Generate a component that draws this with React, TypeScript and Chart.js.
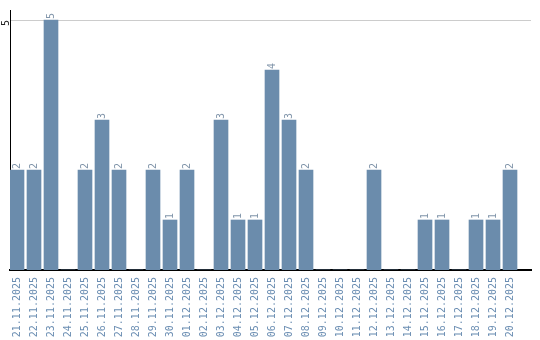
import React, { useEffect, useRef } from "react";
import { Chart, registerables } from "chart.js";

Chart.register(...registerables);

const dates = [
  "21.11.2025", "22.11.2025", "23.11.2025", "24.11.2025", "25.11.2025",
  "26.11.2025", "27.11.2025", "28.11.2025", "29.11.2025", "30.11.2025",
  "01.12.2025", "02.12.2025", "03.12.2025", "04.12.2025", "05.12.2025",
  "06.12.2025", "07.12.2025", "08.12.2025", "09.12.2025", "10.12.2025",
  "11.12.2025", "12.12.2025", "13.12.2025", "14.12.2025", "15.12.2025",
  "16.12.2025", "17.12.2025", "18.12.2025", "19.12.2025", "20.12.2025",
];

const counts = [
  2, 2, 5, 0, 2, 3, 2, 0, 2, 1,
  2, 0, 3, 1, 1, 4, 3, 2, 0, 0,
  0, 2, 0, 0, 1, 1, 0, 1, 1, 2,
];

const yTickValues = [5];

const FONT = "'DejaVu Sans Mono', monospace";

const barLabelPlugin = {
  id: "barLabels",
  afterDatasetsDraw(chart: any) {
    const ctx = chart.ctx;
    const meta = chart.getDatasetMeta(0);
    ctx.save();
    ctx.font = `10px ${FONT}`;
    ctx.fillStyle = "#8195aa";
    ctx.textAlign = "left";
    ctx.textBaseline = "middle";
    meta.data.forEach((bar: any, i: number) => {
      const v = counts[i];
      if (!v) return;
      ctx.save();
      ctx.translate(bar.x + 0.5, bar.y - 1);
      ctx.rotate(-Math.PI / 2);
      ctx.fillText(String(v), 0, 0);
      ctx.restore();
    });
    ctx.restore();
  },
};

export default function App() {
  const ref = useRef<HTMLCanvasElement | null>(null);

  useEffect(() => {
    if (!ref.current) return;
    const chart = new Chart(ref.current, {
      type: "bar",
      data: {
        datasets: [
          {
            data: counts.map((c, i) => ({ x: i, y: c })),
            backgroundColor: "#6b8cac",
            borderWidth: 0,
            barThickness: 14,
          },
        ],
      },
      options: {
        animation: false,
        responsive: false,
        layout: { padding: { top: 10, right: 9, bottom: 0, left: 0 } },
        plugins: {
          legend: { display: false },
          tooltip: { enabled: false },
        },
        scales: {
          x: {
            type: "linear",
            offset: false,
            min: -0.4118,
            max: 30.235,
            grid: { display: false, drawTicks: false, offset: false },
            border: { display: true, color: "#000", width: 2 },
            afterBuildTicks: (scale: any) => {
              scale.ticks = dates.map((_, i) => ({ value: i }));
            },
            afterFit: (scale: any) => {
              scale.height = 70;
            },
            ticks: {
              autoSkip: false,
              minRotation: 90,
              maxRotation: 90,
              padding: 7,
              color: "#6a8db2",
              font: { family: FONT, size: 10 },
              callback: (v: any) => dates[v] ?? "",
            },
          },
          y: {
            min: 0,
            max: 5.2,
            grid: { color: "#cccccc", lineWidth: 1, drawTicks: false },
            border: { display: true, color: "#000", width: 1 },
            afterBuildTicks: (scale: any) => {
              scale.ticks = yTickValues.map((v) => ({ value: v }));
            },
            afterFit: (scale: any) => {
              scale.width = 10;
            },
            ticks: {
              minRotation: 90,
              maxRotation: 90,
              padding: 4,
              color: "#222",
              font: { family: FONT, size: 10 },
            },
          },
        },
      },
      plugins: [barLabelPlugin],
    });
    return () => chart.destroy();
  }, []);

  return (
    <div style={{ position: "absolute", left: 0, top: 0, width: 540, height: 340, background: "#fff" }}>
      <canvas ref={ref} width={540} height={340} />
    </div>
  );
}
